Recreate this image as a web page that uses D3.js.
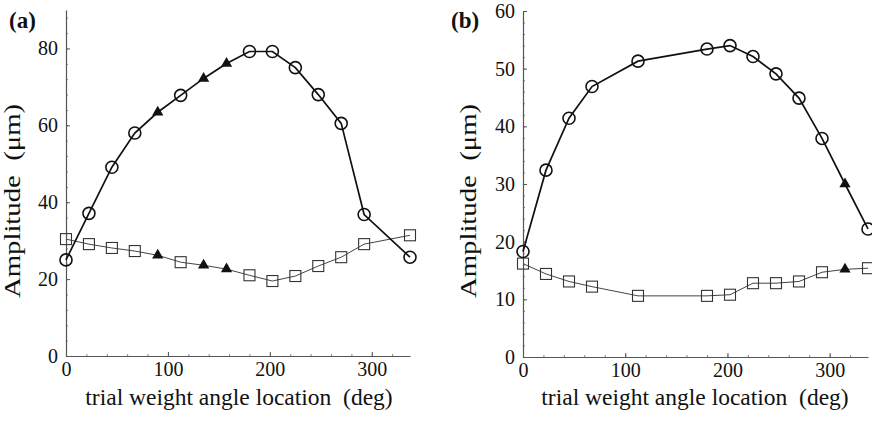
<!DOCTYPE html>
<html>
<head>
<meta charset="utf-8">
<script src="https://cdn.jsdelivr.net/npm/d3@7/dist/d3.min.js"></script>
<style>
  html, body { margin: 0; padding: 0; background: #fff; }
  svg text { font-family: "Liberation Serif", "Times New Roman", "DejaVu Serif", serif; fill: #111; }
</style>
</head>
<body>
<svg id="chart" width="872" height="424"></svg>
<script>
// ---- data ----
const angles = [0, 22.5, 45, 67.5, 90, 112.5, 135, 157.5, 180, 202.5, 225, 247.5, 270, 292.5, 315, 337.5];

// panel (a): null = no point
const aUpper = [25, 37.1, 49.1, 58, 63.4, 67.8, 72.2, 76.1, 79.2, 79.2, 75, 68, 60.5, 36.8, null, 25.7];
const aUpperMarker = ["o","o","o","o","t","o","t","t","o","o","o","o","o","o",null,"o"];
const aLower = [30.4, 29.1, 28.1, 27.3, 26.2, 24.4, 23.6, 22.6, 21, 19.5, 20.8, 23.4, 25.7, 29.1, null, 31.4];
const aLowerMarker = ["s","s","s","s","t","s","t","t","s","s","s","s","s","s",null,"s"];

// panel (b)
const bUpper = [18.3, 32.4, 41.4, 46.9, null, 51.3, null, null, 53.4, 54, 52.1, 49.1, 44.9, 37.9, 30, 22.2];
const bUpperMarker = ["o","o","o","o",null,"o",null,null,"o","o","o","o","o","o","t","o"];
const bLower = [16.2, 14.4, 13.1, 12.2, null, 10.6, null, null, 10.6, 10.8, 12.8, 12.8, 13.1, 14.7, 15.2, 15.4];
const bLowerMarker = ["s","s","s","s",null,"s",null,null,"s","s","s","s","s","s","t","s"];

const xTicks = [0, 100, 200, 300];
const aYTicks = [0, 20, 40, 60, 80];
const bYTicks = [0, 10, 20, 30, 40, 50, 60];

const xLabel = "trial weight angle location  (deg)";
const yLabel = "Amplitude  (\u03bcm)";

const FONT = '"Liberation Serif", "Times New Roman", serif';
const svg = d3.select("#chart");

function panel(cfg) {
  const g = svg.append("g");
  const x = d3.scaleLinear().domain([0, 337.5]).range([cfg.left, cfg.right]);
  const y = d3.scaleLinear().domain(cfg.yDomain).range([cfg.bottom, cfg.top]);

  // minor ticks
  const yMinor = d3.range(cfg.yDomain[0], cfg.yDomain[1] + 0.001, cfg.yMinorStep);
  g.append("g").attr("transform", `translate(${cfg.left},0)`)
    .call(d3.axisRight(y).tickValues(yMinor).tickSize(2).tickFormat(""))
    .call(s => s.select(".domain").remove())
    .selectAll("line").attr("stroke", "#888");
  const xMinor = d3.range(0, 337.5, 20);
  g.append("g").attr("transform", `translate(0,${cfg.bottom})`)
    .call(d3.axisTop(x).tickValues(xMinor).tickSize(2).tickFormat(""))
    .call(s => s.select(".domain").remove())
    .selectAll("line").attr("stroke", "#888");

  // axes (ticks inward)
  const yAx = g.append("g").attr("transform", `translate(${cfg.left},0)`)
    .call(d3.axisLeft(y).tickValues(cfg.yTicks).tickSizeInner(-4).tickSizeOuter(0).tickPadding(8));
  const xAx = g.append("g").attr("transform", `translate(0,${cfg.bottom})`)
    .call(d3.axisBottom(x).tickValues(xTicks).tickSizeInner(-4).tickSizeOuter(0).tickPadding(6));
  [yAx, xAx].forEach(a => {
    a.attr("font-family", FONT);
    a.select(".domain").attr("stroke", "#555").attr("stroke-width", 1.2);
    a.selectAll(".tick line").attr("stroke", "#555");
    a.selectAll("text").style("font-family", FONT).style("font-size", "20px").attr("fill", "#111");
  });

  // lines
  const line = d3.line().x(d => x(d.a)).y(d => y(d.v));
  function series(vals, markers, width, color) {
    const pts = angles.map((a, i) => ({ a, v: vals[i], m: markers[i] })).filter(d => d.v !== null);
    g.append("path").datum(pts).attr("d", line).attr("fill", "none")
      .attr("stroke", color).attr("stroke-width", width);
    pts.forEach(d => {
      const cx = x(d.a), cy = y(d.v);
      if (d.m === "o") {
        g.append("circle").attr("cx", cx).attr("cy", cy).attr("r", 6)
          .attr("fill", "none").attr("stroke", "#111").attr("stroke-width", 1.6);
      } else if (d.m === "s") {
        g.append("rect").attr("x", cx - 5.5).attr("y", cy - 5.5).attr("width", 11).attr("height", 11)
          .attr("fill", "none").attr("stroke", "#333").attr("stroke-width", 1.1);
      } else if (d.m === "t") {
        g.append("path").attr("d", d3.symbol().type(d3.symbolTriangle).size(55)())
          .attr("transform", `translate(${cx},${cy})`).attr("fill", "#111");
      }
    });
  }
  series(cfg.lower, cfg.lowerM, 1, "#444");
  series(cfg.upper, cfg.upperM, 1.7, "#111");

  // labels
  g.append("text").attr("x", cfg.tag[0]).attr("y", cfg.tag[1])
    .style("font-family", FONT).style("font-size", "23px").style("font-weight", "bold").text(cfg.tagText);
  g.append("text").attr("transform", `translate(${cfg.yLabX},${cfg.yLabY}) rotate(-90) scale(1.25,1)`)
    .attr("text-anchor", "middle").style("font-family", FONT).style("font-size", "23px")
    .style("white-space", "pre").text(yLabel);
  g.append("text").attr("x", cfg.xLabX).attr("y", 405)
    .attr("text-anchor", "middle").style("font-family", FONT).style("font-size", "23.5px")
    .style("white-space", "pre").text(xLabel);
}

panel({
  left: 66, right: 410, top: 10, bottom: 356, yDomain: [0, 90], yTicks: aYTicks, yMinorStep: 4,
  upper: aUpper, upperM: aUpperMarker, lower: aLower, lowerM: aLowerMarker,
  tag: [9, 28], tagText: "(a)", yLabX: 20, yLabY: 201, xLabX: 239
});
panel({
  left: 523, right: 868, top: 11, bottom: 357, yDomain: [0, 60], yTicks: bYTicks, yMinorStep: 2,
  upper: bUpper, upperM: bUpperMarker, lower: bLower, lowerM: bLowerMarker,
  tag: [451, 28], tagText: "(b)", yLabX: 476, yLabY: 201, xLabX: 695
});
</script>
</body>
</html>
